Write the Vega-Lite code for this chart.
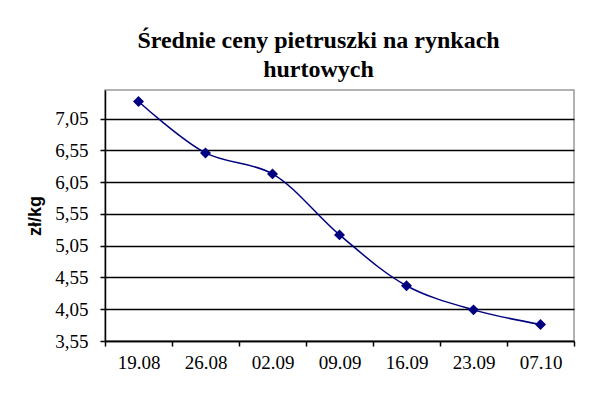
{
  "$schema": "https://vega.github.io/schema/vega-lite/v6.json",
  "width": 469,
  "height": 251,
  "autosize": {"type": "none"},
  "padding": {"left": 105, "top": 90, "right": 34, "bottom": 59},
  "background": "white",
  "title": {
    "text": ["Średnie ceny pietruszki na rynkach", "hurtowych"],
    "font": "'Liberation Serif', 'Times New Roman', 'DejaVu Serif', serif",
    "fontSize": 24,
    "fontWeight": "bold",
    "lineHeight": 29,
    "color": "black",
    "anchor": "middle",
    "frame": "group",
    "dx": -21,
    "offset": 8
  },
  "data": {
    "values": [
      {"data": "19.08", "cena": 7.32},
      {"data": "26.08", "cena": 6.51},
      {"data": "02.09", "cena": 6.18},
      {"data": "09.09", "cena": 5.22},
      {"data": "16.09", "cena": 4.42},
      {"data": "23.09", "cena": 4.04},
      {"data": "07.10", "cena": 3.81}
    ]
  },
  "encoding": {
    "x": {
      "field": "data",
      "type": "ordinal",
      "sort": null,
      "scale": {"paddingInner": 0, "paddingOuter": 0},
      "axis": {
        "title": null,
        "labelAngle": 0,
        "tickBand": "extent",
        "tickSize": 5,
        "tickColor": "black",
        "tickWidth": 1.5,
        "domainColor": "black",
        "domainWidth": 1.5,
        "labelFont": "'Liberation Serif', 'Times New Roman', 'DejaVu Serif', serif",
        "labelFontSize": 19,
        "labelColor": "black",
        "labelPadding": 7,
        "grid": false
      }
    },
    "y": {
      "field": "cena",
      "type": "quantitative",
      "scale": {"domain": [3.55, 7.5], "nice": false, "zero": false},
      "axis": {
        "title": "zł/kg",
        "titleFont": "'Liberation Sans', Arial, sans-serif",
        "titleFontSize": 18,
        "titleFontWeight": "bold",
        "titleColor": "black",
        "titlePadding": 10,
        "values": [3.55, 4.05, 4.55, 5.05, 5.55, 6.05, 6.55, 7.05],
        "labelExpr": "replace(format(datum.value, '.2f'), '.', ',')",
        "labelFont": "'Liberation Serif', 'Times New Roman', 'DejaVu Serif', serif",
        "labelFontSize": 19,
        "labelColor": "black",
        "labelPadding": 12,
        "tickSize": 5,
        "tickColor": "black",
        "tickWidth": 1.5,
        "domainColor": "black",
        "domainWidth": 1.5,
        "grid": true,
        "gridColor": "black",
        "gridWidth": 1.5
      }
    }
  },
  "layer": [
    {
      "mark": {"type": "line", "interpolate": "catmull-rom", "color": "#000080", "strokeWidth": 1.5}
    },
    {
      "mark": {"type": "point", "shape": "diamond", "filled": true, "color": "#000080", "size": 120, "opacity": 1}
    }
  ],
  "config": {
    "view": {"stroke": "#999999", "strokeWidth": 1.5}
  }
}
